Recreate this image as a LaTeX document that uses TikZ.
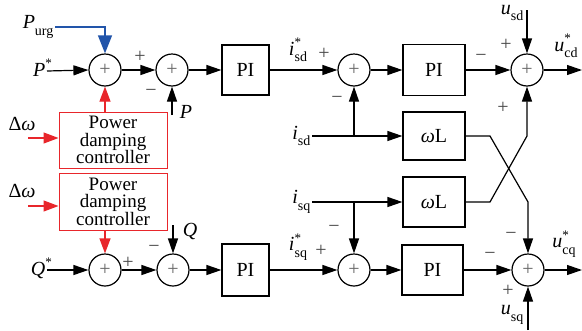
\documentclass[tikz,border=0pt]{standalone}
\usepackage{fontspec}
\setmainfont{Liberation Serif}
\usetikzlibrary{arrows.meta}
\definecolor{myred}{RGB}{232,38,43}
\definecolor{myblue}{RGB}{34,85,170}
\newcommand{\lbl}[3]{\textit{#1}\makebox[0pt][l]{\raisebox{0.42em}{\fontsize{13}{13}\selectfont #2}}\raisebox{-0.32em}{\fontsize{14}{14}\selectfont #3}}
\begin{document}
\begin{tikzpicture}[x=1pt,y=-1pt,line width=1.2pt,
  sumnode/.style={circle,draw,minimum size=32pt,inner sep=0pt,font=\fontsize{20}{20}\selectfont,text=black!60},
  blk/.style={draw,minimum width=47pt,minimum height=50pt,inner sep=0pt,font=\fontsize{20}{20}\selectfont},
  pdc/.style={draw=myred,line width=1pt,minimum width=108pt,minimum height=56pt,inner sep=0pt,align=center,font=\fontsize{19}{17.5}\selectfont},
  arr/.style={-{Triangle[length=15pt,width=10pt]}},
  redarr/.style={draw=myred,-{Triangle[length=15pt,width=11pt]},fill=myred},
  bluearr/.style={draw=myblue,-{Triangle[length=18pt,width=14pt]}},
  sign/.style={font=\fontsize{20}{20}\selectfont,text=black!72,inner sep=0pt},
  lab/.style={font=\fontsize{20}{20}\selectfont,inner sep=1pt}]
\useasboundingbox (0,0) rectangle (582,330);
% top row
\node[sumnode] (s1) at (105,70) {+};
\node[sumnode] (s2) at (172,70) {+};
\node[blk] (pi1) at (245.5,70) {PI};
\node[sumnode] (s3) at (354,70) {+};
\node[blk,minimum width=62pt,minimum height=51pt] (pi2) at (434,70) {PI};
\node[sumnode] (s4) at (527,70) {+};
\node[blk,minimum width=62pt,minimum height=48pt] (wl1) at (434,136) {\textit{ω}L};
\node[blk,minimum width=62pt,minimum height=50pt] (wl2) at (434,202) {\textit{ω}L};
% damping controllers
\node[pdc] (pdc1) at (113,140) {Power\\damping\\controller};
\node[pdc,minimum height=57pt] (pdc2) at (113,201.5) {Power\\damping\\controller};
% bottom row
\node[sumnode] (q1) at (105,270) {+};
\node[sumnode] (q2) at (173,270) {+};
\node[blk,minimum height=52pt] (pi3) at (245.5,270) {PI};
\node[sumnode] (q3) at (354,270) {+};
\node[blk,minimum width=61pt,minimum height=50pt] (pi4) at (432.5,270) {PI};
\node[sumnode] (q4) at (528,270) {+};
% labels
\node[lab,anchor=east] (pstar) at (47,71) {\lbl{P}{*}{}};
\node[lab,anchor=east] (purg) at (55,27) {\lbl{P}{}{urg}};
\node[lab] (plab) at (186,112) {\textit{P}};
\coordinate (pin) at (172,115);
\node[lab,anchor=east] (qstar) at (47,270) {\lbl{Q}{*}{}};
\node[lab] (qlab) at (190,231) {\textit{Q}};
\coordinate (qin) at (173,225);
\node[lab] (isdst) at (298,50) {\lbl{i}{*}{sd}};
\node[lab] (isqst) at (298,247) {\lbl{i}{*}{sq}};
\node[lab,anchor=east] (isd) at (312,136) {\lbl{i}{}{sd}};
\node[lab,anchor=east] (isq) at (312,202) {\lbl{i}{}{sq}};
\node[lab,anchor=east] (usd) at (525,13) {\lbl{u}{}{sd}};
\coordinate (usdtop) at (527,10);
\node[lab] (ucd) at (566,46) {\lbl{u}{*}{cd}};
\coordinate (ucdend) at (582,70);
\node[lab,anchor=east] (usq) at (525,315) {\lbl{u}{}{sq}};
\coordinate (usqbot) at (528,330);
\node[lab] (ucq) at (564,244) {\lbl{u}{*}{cq}};
\coordinate (ucqend) at (582,270);
\node[lab] (dw1) at (22,124) {Δ\textit{ω}};
\node[lab] (dw2) at (22,191) {Δ\textit{ω}};
\coordinate (dw1s) at (28,138);
\coordinate (dw2s) at (28,206);
% signs
\node[sign] at (140,57) {+};
\node[sign] at (151,93) {−};
\node[sign] at (324,54) {+};
\node[sign] at (337,100) {−};
\node[sign] at (481,58) {−};
\node[sign] at (506,45) {+};
\node[sign] at (503,108) {+};
\node[sign] at (128,263) {+};
\node[sign] at (154,249) {−};
\node[sign] at (321,251) {+};
\node[sign] at (334,229) {−};
\node[sign] at (490,256) {−};
\node[sign] at (511,236) {−};
\node[sign] at (508,291) {+};
% connectors top
\draw[arr] (pstar.east) -- (s1.west);
\draw[bluearr] (purg.east) -| (s1.north);
\draw[arr] (s1.east) -- (s2.west);
\draw[arr] (pin) -- (s2.south);
\draw[arr] (s2.east) -- (pi1.west);
\draw[arr] (pi1.east) -- (s3.west);
\draw[arr] (s3.east) -- (pi2.west);
\draw[arr] (pi2.east) -- (s4.west);
\draw[arr] (usdtop) -- (s4.north);
\draw[arr] (s4.east) -- (ucdend);
\coordinate (b1) at (s3.south |- wl1.west);
\draw[arr] (isd.east) -- (wl1.west);
\draw[arr] (b1) -- (s3.south);
% cross
\coordinate (c1) at (490,136);
\coordinate (c2) at (528,202);
\coordinate (c3) at (490,202);
\coordinate (c4) at (527,136);
\draw[arr] (wl1.east) -- (c1) -- (c2) -- (q4.north);
\draw[arr] (wl2.east) -- (c3) -- (c4) -- (s4.south);
% damping
\draw[redarr] (s1.south |- pdc1.north) -- (s1.south);
\draw[redarr] (q1.north |- pdc2.south) -- (q1.north);
\draw[redarr] (dw1s) -- (dw1s -| pdc1.west);
\draw[redarr] (dw2s) -- (dw2s -| pdc2.west);
% bottom row
\draw[arr] (qstar.east) -- (q1.west);
\draw[arr] (q1.east) -- (q2.west);
\draw[arr] (qin) -- (q2.north);
\draw[arr] (q2.east) -- (pi3.west);
\draw[arr] (pi3.east) -- (q3.west);
\draw[arr] (q3.east) -- (pi4.west);
\draw[arr] (pi4.east) -- (q4.west);
\draw[arr] (usqbot) -- (q4.south);
\draw[arr] (q4.east) -- (ucqend);
\coordinate (b2) at (q3.north |- wl2.west);
\draw[arr] (isq.east) -- (wl2.west);
\draw[arr] (b2) -- (q3.north);
\end{tikzpicture}
\end{document}
